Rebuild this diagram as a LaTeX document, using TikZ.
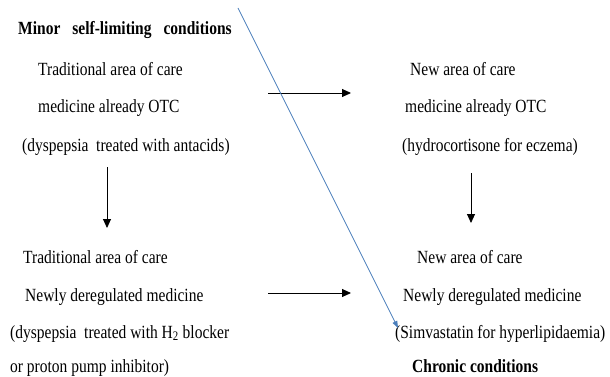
\documentclass[tikz,border=0pt]{standalone}
\usepackage{fontspec}
\setmainfont{Liberation Serif}
\usetikzlibrary{arrows.meta}
\newcommand{\tall}[1]{\scalebox{1}[1.2]{#1}}
\begin{document}
\begin{tikzpicture}[x=1pt,y=-1pt,
  txt/.style={anchor=base west,inner sep=0pt,font=\fontsize{15.5}{18}\selectfont},
  head/.style={txt,font=\fontsize{15.5}{18}\selectfont\bfseries},
  flow/.style={draw=black,line width=0.9pt,-{Triangle[length=9pt,width=8pt]}},
  diag/.style={draw={rgb,255:red,74;green,126;blue,187},line width=0.8pt,-{Triangle[length=7pt,width=5pt]}}]
\useasboundingbox (0,0) rectangle (610,377);
% left top
\node[head] (minor) at (18,35) {\tall{Minor\hspace{12pt}self-limiting\hspace{12pt}conditions}};
\node[txt] (l1) at (38,76) {\tall{Traditional area of care}};
\node[txt] (l2) at (38,113) {\tall{medicine already OTC}};
\node[txt] (l3) at (22,151) {\tall{(dyspepsia\ \ treated with antacids)}};
% right top
\node[txt] (r1) at (410,76) {\tall{New area of care}};
\node[txt] (r2) at (405,113) {\tall{medicine already OTC}};
\node[txt] (r3) at (402,151) {\tall{(hydrocortisone for eczema)}};
% left bottom
\node[txt] (lb1) at (23,263) {\tall{Traditional area of care}};
\node[txt] (lb2) at (25,301) {\tall{Newly\ deregulated medicine}};
\node[txt] (lb3) at (10,338) {\tall{(dyspepsia\ \ treated with H\textsubscript{2} blocker}};
\node[txt] (lb4) at (10,372) {\tall{or proton pump inhibitor)}};
% right bottom
\node[txt] (rb1) at (417,263) {\tall{New area of care}};
\node[txt] (rb2) at (403,301) {\tall{Newly\ deregulated medicine}};
\node[txt] (rb3) at (395,338) {\tall{(Simvastatin for hyperlipidaemia)}};
\node[head] (chronic) at (412,372) {\tall{Chronic conditions}};
% connector end points
\coordinate (ha1) at (268,93);
\coordinate (ha2) at (351,93);
\coordinate (hb1) at (268,293);
\coordinate (hb2) at (351,293);
\coordinate (va1) at (107,167);
\coordinate (va2) at (107,228);
\coordinate (vb1) at (471,173);
\coordinate (vb2) at (471,223);
\coordinate (d1) at (238,8);
\coordinate (d2) at (398,328);
\draw[flow] (ha1) -- (ha2);
\draw[flow] (hb1) -- (hb2);
\draw[flow] (va1) -- (va2);
\draw[flow] (vb1) -- (vb2);
\draw[diag] (d1) -- (d2);
\end{tikzpicture}
\end{document}
